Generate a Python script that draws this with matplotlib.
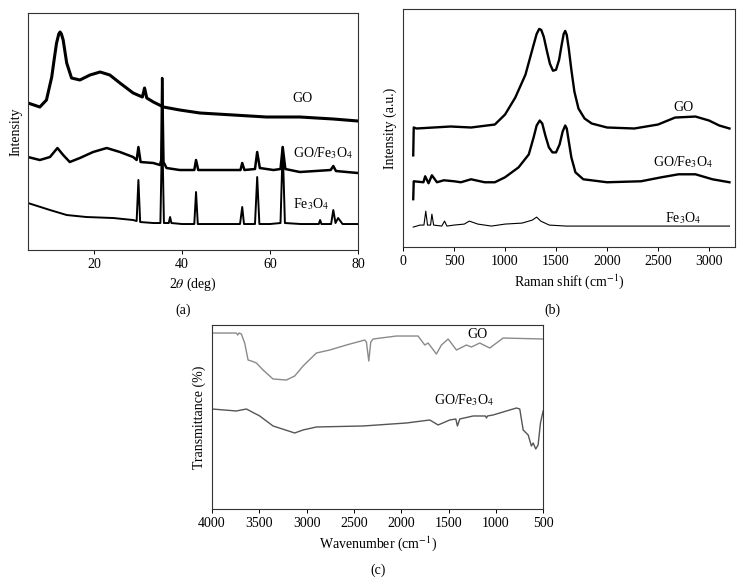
import matplotlib
matplotlib.use("Agg")
import matplotlib.pyplot as plt

plt.rcParams['font.family'] = ['Liberation Serif', 'DejaVu Serif']
plt.rcParams['mathtext.fontset'] = 'stix'
plt.rcParams['font.size'] = 10

# ---- (a) XRD, 2theta (deg) vs intensity (a.u.)
xrd_go_x = [5, 7.7, 9.2, 10.4, 11.0, 11.5, 12.0, 12.3, 12.6, 13.0, 13.8, 14.9, 16.8, 19.1, 21.4,
            23.6, 25.9, 28.9, 31.0, 31.5, 32.0, 33.5, 35.8, 39.5, 44.1, 51.7, 59.2, 66.8, 74.4, 80]
xrd_go_y = [147, 143, 150, 173, 192, 207, 216, 218, 216, 210, 187, 172, 170, 175, 178,
            175, 167, 157, 153, 162, 152, 148, 143, 140, 137, 135, 133, 133, 131, 129]

xrd_gofe_x = [5, 7.7, 10, 11.7, 13, 14.5, 16.8, 19.8, 22.9, 25.9, 28.9, 29.7, 30.1, 30.6,
              33.5, 35.0, 35.3, 35.5, 35.8, 36.5, 39.5, 42.8, 43.2, 43.7, 47.9, 51.7, 53.3,
              53.7, 54.2, 56.6, 57.1, 57.7, 60.8, 62.4, 62.9, 63.5, 66.8, 73.8, 74.4, 75.0, 80]
xrd_gofe_y = [93, 90, 93, 102, 95, 88, 92, 98, 102, 98, 93, 90, 103, 88,
              87, 85, 90, 172, 88, 82, 80, 80, 90, 80, 80, 80, 80,
              87, 80, 81, 98, 82, 80, 81, 103, 81, 78, 80, 84, 79, 77]

xrd_fe_x = [5, 10, 13.8, 18.3, 24.4, 28.9, 29.7, 30.1, 30.5, 33.5, 35.1, 35.5, 35.9, 37.0,
            37.3, 37.6, 40, 42.8, 43.2, 43.6, 47.9, 53.2, 53.7, 54.1, 56.6, 57.1, 57.6,
            60.0, 62.4, 62.9, 63.4, 67, 71.1, 71.4, 71.7, 73.9, 74.4, 74.9, 75.5, 76.5, 80]
xrd_fe_y = [47, 40, 35, 33, 32, 30, 29, 70, 28, 27, 27, 123, 27, 27,
            33, 27, 26, 26, 58, 26, 26, 26, 43, 26, 26, 73, 26,
            26, 27, 103, 27, 26, 26, 30, 26, 26, 40, 27, 32, 26, 26]

# ---- (b) Raman, shift (cm^-1) vs intensity (a.u.)
raman_go_x = [100, 105, 133, 467, 667, 900, 1000, 1100, 1200, 1240, 1280, 1310, 1335, 1355,
              1380, 1410, 1440, 1470, 1500, 1530, 1555, 1575, 1590, 1605, 1625, 1650, 1680,
              1720, 1780, 1850, 2000, 2267, 2500, 2667, 2867, 3000, 3100, 3200]
raman_go_y = [92, 120, 119, 121, 120, 123, 133, 150, 173, 188, 203, 214, 219, 218,
              211, 197, 184, 177, 178, 188, 203, 214, 217, 213, 199, 178, 156,
              139, 129, 124, 120, 119, 123, 130, 131, 127, 122, 119]

raman_gofe_x = [100, 105, 200, 217, 250, 283, 333, 400, 500, 567, 667, 800, 900, 1000, 1133,
                1233, 1280, 1310, 1340, 1365, 1395, 1430, 1465, 1500, 1535, 1565, 1590, 1605,
                1625, 1650, 1690, 1767, 2000, 2333, 2533, 2700, 2867, 3033, 3200]
raman_gofe_y = [48, 66, 65, 71, 64, 72, 65, 67, 66, 65, 68, 65, 65, 70, 80,
                93, 110, 122, 127, 124, 112, 100, 95, 95, 103, 116, 122, 119,
                106, 90, 75, 68, 65, 66, 70, 73, 73, 68, 65]

raman_fe_x = [100, 167, 205, 223, 240, 270, 283, 300, 380, 407, 430, 500, 600, 650, 733,
              867, 1000, 1167, 1267, 1310, 1350, 1433, 1600, 3200]
raman_fe_y = [20, 22, 22, 36, 22, 22, 33, 22, 21, 26, 21, 22, 23, 26, 23,
              21, 23, 24, 27, 30, 26, 22, 21, 21]

# ---- (c) FTIR, wavenumber (cm^-1) vs transmittance (a.u.)
ftir_go_x = [4000, 3743, 3729, 3715, 3690, 3655, 3619, 3584, 3531, 3461, 3355, 3214, 3126,
             3038, 2897, 2756, 2580, 2386, 2368, 2343, 2322, 2297, 2051, 1822, 1751, 1716,
             1628, 1575, 1504, 1416, 1311, 1258, 1170, 1064, 923, 500]
ftir_go_y = [176, 176, 174, 176, 175, 166, 149, 148, 146, 139, 130, 129, 133,
             143, 156, 159, 164, 169, 167, 148, 167, 170, 173, 173, 164, 166,
             155, 164, 170, 159, 164, 162, 166, 161, 171, 170]

ftir_gofe_x = [4000, 3743, 3637, 3496, 3355, 3126, 3038, 2897, 2403, 1945, 1698, 1610, 1487,
               1423, 1406, 1381, 1240, 1110, 1099, 1088, 1029, 782, 747, 711, 658, 624,
               605, 578, 553, 528, 500]
ftir_gofe_y = [100, 98, 100, 93, 83, 76, 79, 82, 83, 86, 89, 84, 89,
               90, 83, 90, 93, 93, 91, 93, 94, 101, 100, 79, 74, 63,
               66, 60, 64, 86, 98]

fig = plt.figure(figsize=(7.44, 5.85), dpi=100)

def style(ax):
    for s in ax.spines.values():
        s.set_linewidth(0.8)
        s.set_color('#333333')
    ax.set_yticks([])
    ax.tick_params(axis='x', direction='out', length=3, width=0.7, pad=3)

# (a)
ax1 = fig.add_axes([0.0376, 0.5726, 0.4435, 0.4052])
ax1.plot(xrd_go_x, xrd_go_y, color='black', lw=2.2)
ax1.plot(xrd_gofe_x, xrd_gofe_y, color='black', lw=1.8)
ax1.plot(xrd_fe_x, xrd_fe_y, color='black', lw=1.4)
ax1.set_xlim(5, 80)
ax1.set_ylim(0, 237)
ax1.set_xticks([20, 40, 60, 80])
style(ax1)
ax1.set_xlabel(r'2$\theta$ (deg)', labelpad=3)
ax1.set_ylabel('Intensity', labelpad=4)
ax1.text(65.2, 152, 'GO', va='center', ha='left')
ax1.text(65.2, 97, r'GO/Fe$_3$O$_4$', va='center', ha='left')
ax1.text(65.2, 46, r'Fe$_3$O$_4$', va='center', ha='left')
fig.text(0.246, 1 - 310 / 585, '(a)', ha='center', va='center')

# (b)
ax2 = fig.add_axes([0.5417, 0.5778, 0.4463, 0.4068])
ax2.plot(raman_go_x, raman_go_y, color='black', lw=1.7)
ax2.plot(raman_gofe_x, raman_gofe_y, color='black', lw=1.7)
ax2.plot(raman_fe_x, raman_fe_y, color='black', lw=0.8)
ax2.set_xlim(0, 3255)
ax2.set_ylim(0, 239)
ax2.set_xticks([0, 500, 1000, 1500, 2000, 2500, 3000])
style(ax2)
ax2.set_xlabel(r'Raman shift (cm$^{-1}$)', labelpad=3)
ax2.set_ylabel('Intensity (a.u.)', labelpad=4)
ax2.text(2745, 140, 'GO', va='center', ha='center')
ax2.text(2745, 85, r'GO/Fe$_3$O$_4$', va='center', ha='center')
ax2.text(2745, 29, r'Fe$_3$O$_4$', va='center', ha='center')
fig.text(0.743, 1 - 310 / 585, '(b)', ha='center', va='center')

# (c)
ax3 = fig.add_axes([0.285, 0.130, 0.445, 0.3144])
ax3.plot(ftir_go_x, ftir_go_y, color='#8a8a8a', lw=1.0)
ax3.plot(ftir_gofe_x, ftir_gofe_y, color='#555555', lw=1.0)
ax3.set_xlim(4000, 500)
ax3.set_ylim(0, 184)
ax3.set_xticks([4000, 3500, 3000, 2500, 2000, 1500, 1000, 500])
style(ax3)
ax3.set_xlabel(r'Wavenumber (cm$^{-1}$)', labelpad=3)
ax3.set_ylabel('Transmittance (%)', labelpad=4)
ax3.text(1191, 175, 'GO', va='center', ha='center')
ax3.text(1339, 109, r'GO/Fe$_3$O$_4$', va='center', ha='center')
fig.text(0.5075, 1 - 570 / 585, '(c)', ha='center', va='center')

fig.savefig('out.png', dpi=100)
